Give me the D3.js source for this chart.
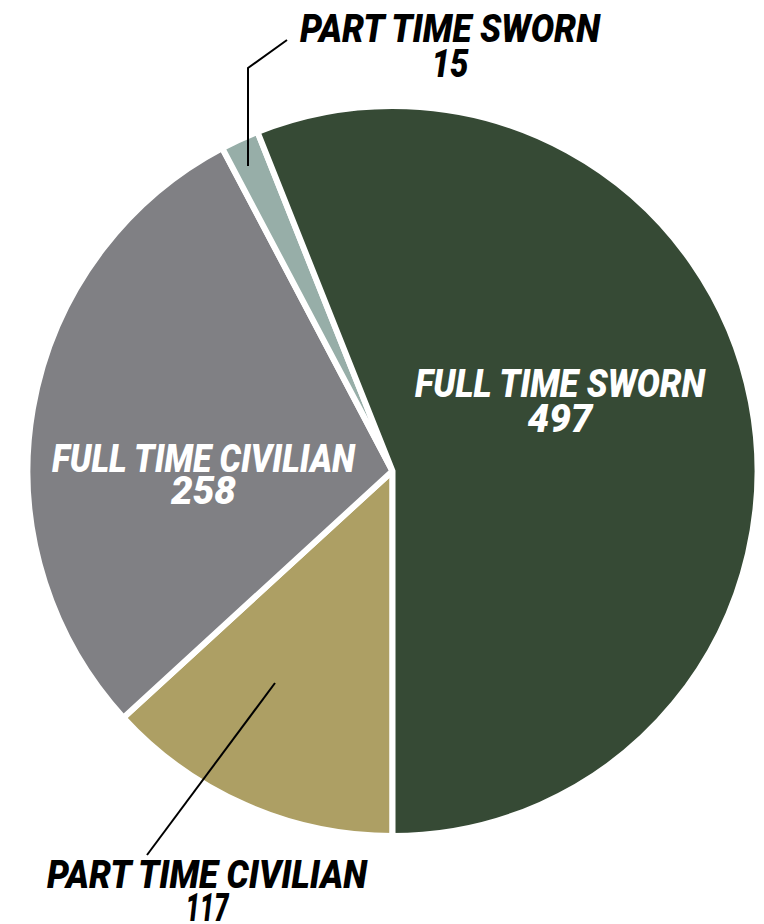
<!DOCTYPE html>
<html>
<head>
<meta charset="utf-8">
<script src="https://cdn.jsdelivr.net/npm/d3@7"></script>
<style>
  html, body { margin: 0; padding: 0; background: #fff; }
  svg { display: block; }
  text { font-family: Roboto, "Liberation Sans", sans-serif; font-weight: 900; font-style: italic; }
</style>
</head>
<body>
<svg id="chart" width="764" height="924"></svg>
<script>
// Data (clockwise from the bottom of the pie)
const categories = ["PART TIME CIVILIAN", "FULL TIME CIVILIAN", "PART TIME SWORN", "FULL TIME SWORN"];
const values = [117, 258, 15, 497];
const colors = ["#ad9f64", "#808084", "#97aea8", "#364a35"];

const svg = d3.select("#chart");
const cx = 392.5, cy = 471, R = 365;

const pie = d3.pie().sort(null).value(d => d.value).startAngle(Math.PI).endAngle(3 * Math.PI);
const arcs = pie(categories.map((c, i) => ({ name: c, value: values[i], color: colors[i] })));
const arc = d3.arc().innerRadius(0).outerRadius(R);

const g = svg.append("g").attr("transform", `translate(${cx},${cy})`);
g.selectAll("path").data(arcs).join("path")
  .attr("d", arc)
  .attr("fill", d => d.data.color)
  .attr("stroke", "#fff")
  .attr("stroke-width", 6)
  .attr("stroke-linejoin", "miter");

// Leader lines
svg.append("polyline")
  .attr("points", "287,40 248,68 248,166")
  .attr("fill", "none").attr("stroke", "#000").attr("stroke-width", 2);
svg.append("line")
  .attr("x1", 275).attr("y1", 683).attr("x2", 147).attr("y2", 855)
  .attr("stroke", "#000").attr("stroke-width", 2);

// Label layout: centre x, first baseline, line gap, widths, colour (keyed by category)
const labelLayout = {
  "FULL TIME SWORN":    [560,   397, 35, 290, 65, "#fff"],
  "FULL TIME CIVILIAN": [203.5, 472, 32, 303, 65, "#fff"],
  "PART TIME SWORN":    [450,   42,  35, 300, 37, "#000"],
  "PART TIME CIVILIAN": [207,   888, 33, 320, 43, "#000"]
};
categories.forEach((name, i) => {
  const [x, y, gap, w1, w2, col] = labelLayout[name];
  const t = svg.append("text").attr("font-size", 38).attr("fill", col);
  t.append("tspan").attr("x", x - w1 / 2).attr("y", y)
    .attr("textLength", w1).attr("lengthAdjust", "spacingAndGlyphs").text(name);
  t.append("tspan").attr("x", x - w2 / 2).attr("y", y + gap)
    .attr("textLength", w2).attr("lengthAdjust", "spacingAndGlyphs").text(values[i]);
});
</script>
</body>
</html>
